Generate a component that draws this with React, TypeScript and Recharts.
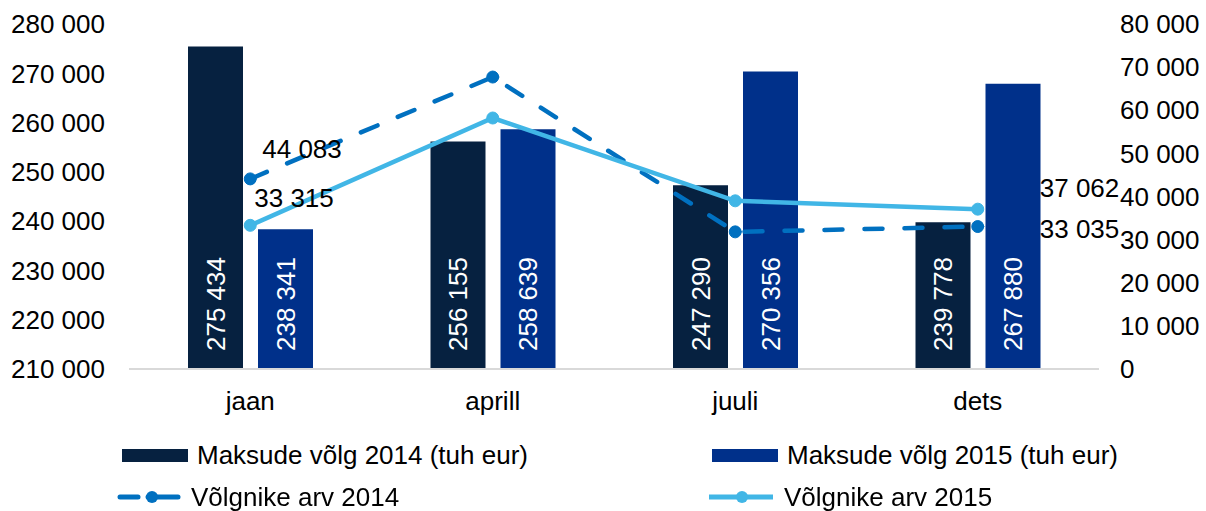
import {
  ComposedChart,
  Bar,
  Line,
  XAxis,
  YAxis,
  LabelList,
} from "recharts";

const months = ["jaan", "aprill", "juuli", "dets"];
const debt2014 = [275434, 256155, 247290, 239778];
const debt2015 = [238341, 258639, 270356, 267880];
const debtors2014 = [44083, 67700, 31800, 33035];
const debtors2015 = [33315, 58200, 39000, 37062];
const leftTicks = [210000, 220000, 230000, 240000, 250000, 260000, 270000, 280000];
const rightTicks = [0, 10000, 20000, 30000, 40000, 50000, 60000, 70000, 80000];

const data = months.map((m, i) => ({
  month: m,
  debt2014: debt2014[i],
  debt2015: debt2015[i],
  debtors2014: debtors2014[i],
  debtors2015: debtors2015[i],
}));

const FONT = "'Liberation Sans', Arial, sans-serif";
const FS = 26;
const C_2014_BAR = "#062140";
const C_2015_BAR = "#00308A";
const C_2014_LINE = "#0070C0";
const C_2015_LINE = "#41B6E6";

const fmt = (v: number) => String(Math.round(v)).replace(/\B(?=(\d{3})+(?!\d))/g, " ");

function BarValueLabel(props: any) {
  const { x, y, width, height, value } = props;
  const cx = x + width / 2;
  const by = y + height - 18;
  return (
    <text
      x={cx}
      y={by}
      transform={`rotate(-90 ${cx} ${by})`}
      fill="#fff"
      fontSize={FS}
      fontFamily={FONT}
      textAnchor="start"
      dominantBaseline="central"
    >
      {fmt(value)}
    </text>
  );
}

// only first and last points carry a label
const lineLabel = (offsets: Record<number, [number, number]>) =>
  function LineValueLabel(props: any) {
    const { x, y, index, value } = props;
    const off = offsets[index];
    if (!off) return null;
    return (
      <text
        x={x + off[0]}
        y={y + off[1]}
        fill="#000"
        fontSize={FS}
        fontFamily={FONT}
        textAnchor="start"
        dominantBaseline="central"
      >
        {fmt(value)}
      </text>
    );
  };

function LegendItem({ kind, color, label }: { kind: "bar" | "dash" | "solid"; color: string; label: string }) {
  return (
    <div style={{ display: "flex", alignItems: "center", height: 30 }}>
      <svg width={75} height={20} style={{ flex: "none" }}>
        {kind === "bar" && <rect x={0} y={4} width={66} height={13} fill={color} />}
        {kind === "dash" && (
          <>
            <line x1={4} y1={10} x2={22} y2={10} stroke={color} strokeWidth={5} strokeLinecap="round" />
            <line x1={32} y1={10} x2={62} y2={10} stroke={color} strokeWidth={5} strokeLinecap="round" />
            <circle cx={36} cy={10} r={6} fill={color} />
          </>
        )}
        {kind === "solid" && (
          <>
            <line x1={0} y1={10} x2={64} y2={10} stroke={color} strokeWidth={5} />
            <circle cx={33} cy={10} r={6} fill={color} />
          </>
        )}
      </svg>
      <span style={{ fontSize: FS, fontFamily: FONT, color: "#000", whiteSpace: "nowrap" }}>{label}</span>
    </div>
  );
}

export default function App() {
  return (
    <div style={{ position: "fixed", left: 0, top: 0, width: 1206, height: 511, background: "#fff" }}>
      <ComposedChart
        width={1206}
        height={420}
        data={data}
        barSize={55}
        barGap={15}
        margin={{ top: 24, right: 0, left: 0, bottom: 0 }}
      >
        <XAxis
          dataKey="month"
          axisLine={{ stroke: "#d9d9d9", strokeWidth: 2 }}
          tickLine={false}
          tickSize={0}
          tickMargin={23}
          height={51}
          tick={{ fill: "#000", fontSize: FS, fontFamily: FONT }}
        />
        <YAxis
          yAxisId="left"
          domain={[210000, 280000]}
          ticks={leftTicks}
          tickFormatter={fmt}
          axisLine={false}
          tickLine={false}
          tickSize={0}
          tickMargin={24}
          width={129}
          tick={{ fill: "#000", fontSize: FS, fontFamily: FONT }}
        />
        <YAxis
          yAxisId="right"
          orientation="right"
          domain={[0, 80000]}
          ticks={rightTicks}
          tickFormatter={fmt}
          axisLine={false}
          tickLine={false}
          tickSize={0}
          tickMargin={21}
          width={107}
          tick={{ fill: "#000", fontSize: FS, fontFamily: FONT, textAnchor: "start" }}
        />
        <Bar yAxisId="left" dataKey="debt2014" fill={C_2014_BAR} isAnimationActive={false}>
          <LabelList dataKey="debt2014" content={BarValueLabel} />
        </Bar>
        <Bar yAxisId="left" dataKey="debt2015" fill={C_2015_BAR} isAnimationActive={false}>
          <LabelList dataKey="debt2015" content={BarValueLabel} />
        </Bar>
        <Line
          yAxisId="right"
          dataKey="debtors2014"
          stroke={C_2014_LINE}
          strokeWidth={4.5}
          strokeDasharray="18 22"
          strokeLinecap="round"
          dot={{ r: 6, fill: C_2014_LINE, stroke: C_2014_LINE, strokeWidth: 1, strokeDasharray: "" }}
          isAnimationActive={false}
        >
          <LabelList dataKey="debtors2014" content={lineLabel({ 0: [12, -30], 3: [62, 2] })} />
        </Line>
        <Line
          yAxisId="right"
          dataKey="debtors2015"
          stroke={C_2015_LINE}
          strokeWidth={4.5}
          dot={{ r: 6, fill: C_2015_LINE, stroke: C_2015_LINE, strokeWidth: 1 }}
          isAnimationActive={false}
        >
          <LabelList dataKey="debtors2015" content={lineLabel({ 0: [4, -27], 3: [62, -21] })} />
        </Line>
      </ComposedChart>
      <div style={{ position: "absolute", left: 122, top: 440 }}>
        <LegendItem kind="bar" color={C_2014_BAR} label="Maksude võlg 2014 (tuh eur)" />
      </div>
      <div style={{ position: "absolute", left: 712, top: 440 }}>
        <LegendItem kind="bar" color={C_2015_BAR} label="Maksude võlg 2015 (tuh eur)" />
      </div>
      <div style={{ position: "absolute", left: 116, top: 482 }}>
        <LegendItem kind="dash" color={C_2014_LINE} label="Võlgnike arv 2014" />
      </div>
      <div style={{ position: "absolute", left: 709, top: 482 }}>
        <LegendItem kind="solid" color={C_2015_LINE} label="Võlgnike arv 2015" />
      </div>
    </div>
  );
}
